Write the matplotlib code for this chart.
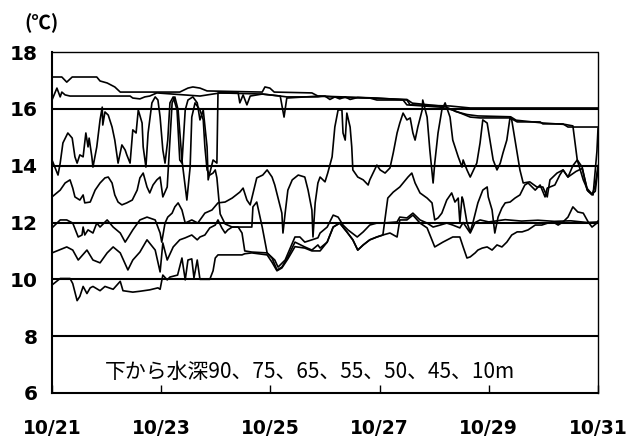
import matplotlib
matplotlib.use("Agg")
import matplotlib.pyplot as plt

# time axis: days elapsed since 10/21 00:00
tick_days = [0, 2, 4, 6, 8, 10]
tick_labels = ["10/21", "10/23", "10/25", "10/27", "10/29", "10/31"]
y_ticks = [6, 8, 10, 12, 14, 16, 18]
grid_levels = [8, 10, 12, 14, 16]
note = "下から水深90、75、65、55、50、45、10m"

# 10 m
d10 = [0, 0.18, 0.27, 0.37, 0.82, 0.88, 1.01, 1.15, 1.25, 2.34, 2.49, 2.58, 2.71, 2.84,
       3.85, 3.90, 3.99, 4.07, 4.76, 4.87, 5.95, 6.50, 6.56, 7.29, 7.66, 10.0]
t10 = [17.12, 17.12, 16.94, 17.12, 17.12, 16.98, 16.91, 16.77, 16.59, 16.59, 16.73, 16.77, 16.73, 16.63,
       16.59, 16.77, 16.73, 16.59, 16.56, 16.45, 16.38, 16.31, 16.14, 16.10, 16.03, 16.03]

# 45 m
d45 = [0, 0.09, 0.15, 0.18, 0.24, 0.33, 1.43, 1.48, 1.61, 1.70, 1.79, 1.92, 2.71, 3.08, 3.85, 4.18,
       4.30, 4.87, 5.00, 5.09, 5.18, 5.27, 5.37, 5.46, 5.60, 5.82, 5.95, 6.43, 6.50, 7.11, 7.34, 7.66,
       7.84, 8.39, 8.52, 8.94, 8.99, 9.36, 9.45, 10.0]
t45 = [16.31, 16.73, 16.42, 16.59, 16.49, 16.45, 16.45, 16.38, 16.35, 16.42, 16.45, 16.56, 16.45, 16.56, 16.52, 16.45,
       16.42, 16.42, 16.45, 16.33, 16.42, 16.35, 16.42, 16.33, 16.40, 16.38, 16.31, 16.31, 16.14, 16.06, 15.96, 15.71,
       15.68, 15.68, 15.54, 15.54, 15.47, 15.47, 15.36, 15.36]

# 50 m
d50 = [0, 0.11, 0.15, 0.20, 0.29, 0.37, 0.42, 0.46, 0.51, 0.57, 0.62, 0.66, 0.68, 0.73, 0.75, 0.82,
       0.88, 0.92, 0.93, 0.97, 1.03, 1.10, 1.15, 1.21, 1.28, 1.34, 1.37, 1.43, 1.48, 1.54, 1.58, 1.65,
       1.67, 1.72, 1.76, 1.83, 1.89, 1.94, 1.98, 2.03, 2.07, 2.12, 2.16, 2.22, 2.29, 2.34, 2.38, 2.44,
       2.49, 2.58, 2.66, 2.71, 2.77, 2.84, 2.86, 2.89, 2.95, 3.02, 3.04, 3.41, 3.44, 3.50, 3.57, 3.63,
       3.85, 4.18, 4.25, 4.30, 4.90, 5.30, 5.80, 6.50, 6.60, 7.20, 7.40, 7.60, 7.80, 8.40, 8.50, 9.00,
       9.40, 9.54, 9.62, 9.73, 9.82, 9.91, 9.98, 10.0]
t50 = [14.20, 13.67, 14.09, 14.80, 15.15, 14.97, 14.31, 14.09, 14.38, 14.31, 15.15, 14.66, 14.97, 14.31, 13.95, 14.66,
       15.61, 16.06, 15.43, 15.89, 15.78, 15.36, 14.90, 14.09, 14.73, 14.55, 14.38, 14.09, 15.26, 15.15, 15.96, 15.50,
       14.66, 13.95, 15.15, 16.21, 16.42, 16.31, 15.71, 14.55, 14.09, 14.90, 16.21, 16.42, 15.96, 14.20, 14.09, 15.96,
       16.31, 16.42, 16.21, 15.61, 15.96, 14.66, 13.50, 13.74, 14.20, 14.09, 16.56, 16.56, 16.21, 16.49, 16.14, 16.45,
       16.52, 16.45, 15.71, 16.38, 16.45, 16.40, 16.38, 16.33, 16.20, 16.08, 15.90, 15.80, 15.75, 15.72, 15.60, 15.50,
       15.45, 15.40, 14.20, 13.50, 13.10, 12.97, 14.50, 15.30]

# 55 m
d55 = [0, 0.15, 0.24, 0.33, 0.38, 0.42, 0.51, 0.57, 0.60, 0.70, 0.79, 0.88, 0.97, 1.03, 1.10, 1.15,
       1.21, 1.28, 1.37, 1.47, 1.56, 1.61, 1.67, 1.74, 1.79, 1.85, 1.92, 1.98, 2.03, 2.11, 2.16, 2.20,
       2.25, 2.31, 2.38, 2.47, 2.53, 2.56, 2.62, 2.71, 2.77, 2.80, 2.84, 2.89, 2.95, 2.99, 3.02, 3.08,
       3.17, 3.30, 3.41, 3.50, 3.66, 3.68, 3.75, 3.81, 3.85, 3.94, 4.03, 4.12, 4.21, 4.32, 4.45, 4.63,
       4.76, 4.87, 4.91, 5.04, 5.15, 5.27, 5.40, 5.51, 5.60, 5.70, 5.82, 5.95, 6.06, 6.15, 6.25, 6.37,
       6.52, 6.59, 6.65, 6.74, 6.87, 6.96, 7.01, 7.07, 7.14, 7.23, 7.32, 7.38, 7.44, 7.47, 7.51, 7.53,
       7.60, 7.66, 7.71, 7.80, 7.89, 7.97, 7.99, 8.06, 8.11, 8.17, 8.24, 8.30, 8.39, 8.48, 8.57, 8.66,
       8.72, 8.85, 8.94, 9.03, 9.07, 9.12, 9.21, 9.30, 9.36, 9.45, 9.60, 9.71, 9.80, 9.89, 9.95, 10.0]
t55 = [12.90, 13.14, 13.39, 13.50, 13.21, 12.90, 12.79, 12.97, 12.69, 12.72, 13.14, 13.39, 13.57, 13.60, 13.39, 12.97,
       12.72, 12.62, 12.69, 12.79, 13.14, 13.57, 13.74, 13.25, 13.04, 13.32, 13.50, 13.60, 12.90, 13.25, 14.90, 16.21,
       16.42, 15.96, 14.20, 12.79, 13.95, 15.71, 16.21, 15.96, 15.61, 14.66, 13.85, 13.67, 13.74, 13.85, 13.57, 12.30,
       11.95, 11.84, 11.84, 11.84, 11.84, 12.55, 12.72, 12.19, 11.84, 10.93, 10.75, 10.33, 10.43, 10.79, 11.31, 11.14,
       11.03, 11.21, 11.10, 11.31, 11.84, 11.98, 11.67, 11.39, 11.03, 11.21, 11.39, 11.49, 11.56, 12.86, 13.07, 13.25,
       13.60, 13.74, 13.39, 13.04, 12.86, 12.69, 12.09, 12.16, 12.33, 12.79, 13.04, 12.72, 12.86, 12.00, 12.90, 12.79,
       12.00, 11.67, 12.00, 12.69, 13.14, 13.25, 12.90, 12.44, 11.63, 12.19, 12.51, 12.69, 12.72, 12.86, 12.97, 13.32,
       13.39, 13.14, 13.32, 12.90, 13.21, 13.25, 13.32, 13.67, 13.85, 13.60, 13.80, 13.90, 13.20, 13.00, 13.10, 13.90]

# 65 m
d65 = [0, 0.15, 0.27, 0.38, 0.48, 0.55, 0.57, 0.60, 0.66, 0.75, 0.82, 0.88, 1.01, 1.12, 1.25, 1.34,
       1.39, 1.48, 1.61, 1.74, 1.89, 1.98, 2.01, 2.07, 2.12, 2.20, 2.25, 2.31, 2.38, 2.44, 2.56, 2.67,
       2.80, 2.93, 3.04, 3.17, 3.30, 3.44, 3.50, 3.57, 3.63, 3.75, 3.86, 3.94, 4.03, 4.08, 4.21, 4.23,
       4.27, 4.32, 4.40, 4.51, 4.63, 4.69, 4.76, 4.78, 4.82, 4.87, 4.91, 5.00, 5.05, 5.13, 5.18, 5.24,
       5.31, 5.33, 5.37, 5.40, 5.46, 5.49, 5.51, 5.60, 5.70, 5.79, 5.82, 5.95, 6.01, 6.10, 6.19, 6.25,
       6.32, 6.37, 6.43, 6.50, 6.56, 6.61, 6.65, 6.70, 6.78, 6.79, 6.87, 6.92, 6.98, 7.01, 7.07, 7.14,
       7.20, 7.29, 7.34, 7.44, 7.51, 7.53, 7.60, 7.66, 7.78, 7.84, 7.89, 7.97, 8.02, 8.08, 8.15, 8.21,
       8.26, 8.33, 8.39, 8.42, 8.48, 8.57, 8.63, 8.75, 8.88, 8.99, 9.07, 9.12, 9.25, 9.36, 9.45, 9.54,
       9.62, 9.71, 9.80, 9.89, 9.95, 10.0]
t65 = [11.81, 12.09, 12.09, 11.98, 11.49, 11.56, 11.84, 11.56, 11.74, 11.63, 11.98, 11.84, 12.09, 11.84, 11.63, 11.31,
       11.46, 11.74, 12.09, 12.19, 12.09, 11.63, 11.31, 11.98, 12.19, 12.33, 12.55, 12.69, 12.44, 11.98, 12.09, 11.98,
       12.33, 12.44, 12.69, 12.72, 12.86, 13.07, 13.21, 12.79, 12.62, 13.57, 13.67, 13.85, 13.60, 13.32, 12.33, 11.63,
       12.33, 13.14, 13.50, 13.67, 13.60, 13.14, 12.44, 11.49, 12.69, 13.39, 13.60, 13.43, 13.74, 14.31, 15.36, 15.96,
       15.96, 15.15, 14.90, 15.85, 15.36, 14.66, 13.85, 13.60, 13.50, 13.32, 13.50, 14.02, 13.85, 13.74, 13.92, 14.45,
       15.15, 15.50, 15.85, 15.61, 15.68, 15.15, 14.90, 15.36, 15.96, 16.31, 15.71, 14.55, 13.39, 14.09, 15.15, 15.96,
       16.21, 15.71, 14.90, 14.31, 13.95, 14.20, 13.85, 13.60, 14.09, 14.80, 15.61, 15.50, 14.90, 14.20, 13.85, 14.09,
       14.45, 14.90, 15.71, 15.61, 14.90, 13.85, 13.39, 13.43, 13.25, 13.25, 12.90, 13.50, 13.74, 13.85, 13.60, 14.00,
       14.20, 13.95, 13.14, 12.97, 13.30, 14.00]

# 75 m
d75 = [0, 0.27, 0.38, 0.48, 0.64, 0.75, 0.88, 1.01, 1.12, 1.25, 1.39, 1.48, 1.61, 1.74, 1.89, 1.98,
       2.03, 2.11, 2.22, 2.34, 2.44, 2.56, 2.66, 2.71, 2.80, 2.89, 2.99, 3.04, 3.11, 3.17, 3.22, 3.30,
       3.41, 3.48, 3.53, 3.66, 3.94, 4.08, 4.14, 4.27, 4.45, 4.54, 4.63, 4.76, 4.87, 4.91, 5.04, 5.15,
       5.24, 5.33, 5.42, 5.59, 5.70, 5.82, 5.95, 6.06, 6.32, 6.37, 6.50, 6.61, 6.74, 6.87, 6.98, 7.11,
       7.23, 7.34, 7.47, 7.53, 7.60, 7.66, 7.75, 7.84, 8.00, 8.30, 8.60, 8.90, 9.20, 9.50, 9.80, 10.0]
t75 = [10.93, 11.14, 11.03, 10.68, 11.03, 10.68, 10.58, 10.93, 11.14, 10.93, 10.33, 10.68, 10.96, 11.39, 11.03, 10.26,
       11.28, 10.68, 11.14, 11.39, 11.46, 11.56, 11.39, 11.49, 11.56, 11.81, 11.91, 12.09, 11.81, 11.63, 11.74, 11.84,
       11.84, 11.63, 11.00, 10.96, 10.93, 10.68, 10.43, 10.68, 11.49, 11.49, 11.31, 11.39, 11.46, 11.63, 11.84, 12.26,
       12.19, 11.91, 11.74, 11.49, 11.67, 11.91, 11.98, 11.98, 12.02, 12.19, 12.16, 12.33, 12.09, 11.98, 11.84, 11.91,
       11.98, 11.91, 11.81, 12.00, 11.80, 11.63, 12.00, 12.09, 12.02, 12.10, 12.05, 12.08, 12.04, 12.06, 12.00, 12.02]

# 90 m
d90 = [0, 0.15, 0.33, 0.38, 0.46, 0.51, 0.57, 0.64, 0.70, 0.75, 0.88, 0.97, 1.12, 1.25, 1.30, 1.48,
       1.61, 1.79, 1.94, 1.98, 2.03, 2.11, 2.16, 2.30, 2.38, 2.44, 2.49, 2.56, 2.60, 2.66, 2.71, 2.89,
       2.95, 2.99, 3.04, 3.48, 3.53, 3.66, 3.94, 4.03, 4.12, 4.21, 4.32, 4.45, 4.63, 4.76, 4.91, 5.04,
       5.15, 5.27, 5.40, 5.51, 5.60, 5.70, 5.82, 5.95, 6.06, 6.19, 6.32, 6.37, 6.50, 6.61, 6.74, 6.87,
       7.01, 7.16, 7.34, 7.47, 7.53, 7.60, 7.66, 7.75, 7.80, 7.88, 7.97, 8.06, 8.15, 8.24, 8.33, 8.42,
       8.52, 8.61, 8.72, 8.85, 8.97, 9.08, 9.21, 9.27, 9.36, 9.45, 9.54, 9.63, 9.73, 9.82, 9.89, 9.98, 10.0]
t90 = [9.80, 10.03, 10.03, 9.85, 9.25, 9.40, 9.75, 9.50, 9.70, 9.75, 9.60, 9.75, 9.65, 9.93, 9.60, 9.55,
       9.58, 9.63, 9.70, 9.65, 10.15, 9.98, 10.08, 10.15, 10.75, 9.98, 10.68, 10.72, 10.05, 10.68, 10.00, 10.00,
       10.30, 10.75, 10.86, 10.86, 10.90, 10.93, 10.86, 10.60, 10.30, 10.40, 10.72, 11.15, 11.10, 11.00, 11.00, 11.31,
       11.84, 11.98, 11.67, 11.39, 11.03, 11.21, 11.39, 11.49, 11.56, 11.63, 11.49, 12.09, 12.09, 12.26, 11.98, 11.81,
       11.14, 11.31, 11.49, 11.49, 11.14, 10.75, 10.79, 10.93, 11.03, 11.10, 11.14, 11.03, 11.21, 11.14, 11.31, 11.56,
       11.67, 11.67, 11.74, 11.91, 11.91, 11.98, 11.98, 11.91, 12.02, 12.19, 12.55, 12.37, 12.33, 12.02, 11.84, 11.98, 12.05]

series = [(d90, t90), (d75, t75), (d65, t65), (d55, t55), (d50, t50), (d45, t45), (d10, t10)]

plt.rcParams["font.family"] = ["DejaVu Sans"]

fig = plt.figure(figsize=(6.3, 4.41), dpi=100)
ax = fig.add_axes([52 / 630, 1 - 393 / 441, 546 / 630, 341 / 441])

ax.hlines(grid_levels, 0, 10, colors="black", linewidth=1.5, zorder=1)
for d, t in series:
    ax.plot(d, t, color="black", linewidth=1.2, zorder=2)

ax.set_xlim(0, 10)
ax.set_ylim(6, 18)
ax.set_xticks(tick_days)
ax.set_xticklabels(tick_labels)
ax.set_yticks(y_ticks)
ax.set_yticklabels([str(v) for v in y_ticks])

for side in ["left", "bottom"]:
    ax.spines[side].set_linewidth(1.5)
for side in ["top", "right"]:
    ax.spines[side].set_linestyle((0, (1, 1)))
    ax.spines[side].set_linewidth(1.0)

ax.tick_params(axis="x", direction="in", length=6, width=1, pad=19, labelsize=13.5)
ax.tick_params(axis="y", length=0, pad=10, labelsize=14.5)
for lab in ax.get_xticklabels() + ax.get_yticklabels():
    lab.set_fontweight("bold")

ax.text(0.4725, 0.062, note, transform=ax.transAxes, ha="center", va="center",
        fontsize=15, family=["Noto Sans CJK JP", "DejaVu Sans"])
fig.text(24 / 630, 1 - 23 / 441, "(℃)", ha="left", va="center", fontsize=14,
         fontweight="bold", family=["Noto Sans CJK JP", "DejaVu Sans"])

fig.savefig("out.png", dpi=100)
